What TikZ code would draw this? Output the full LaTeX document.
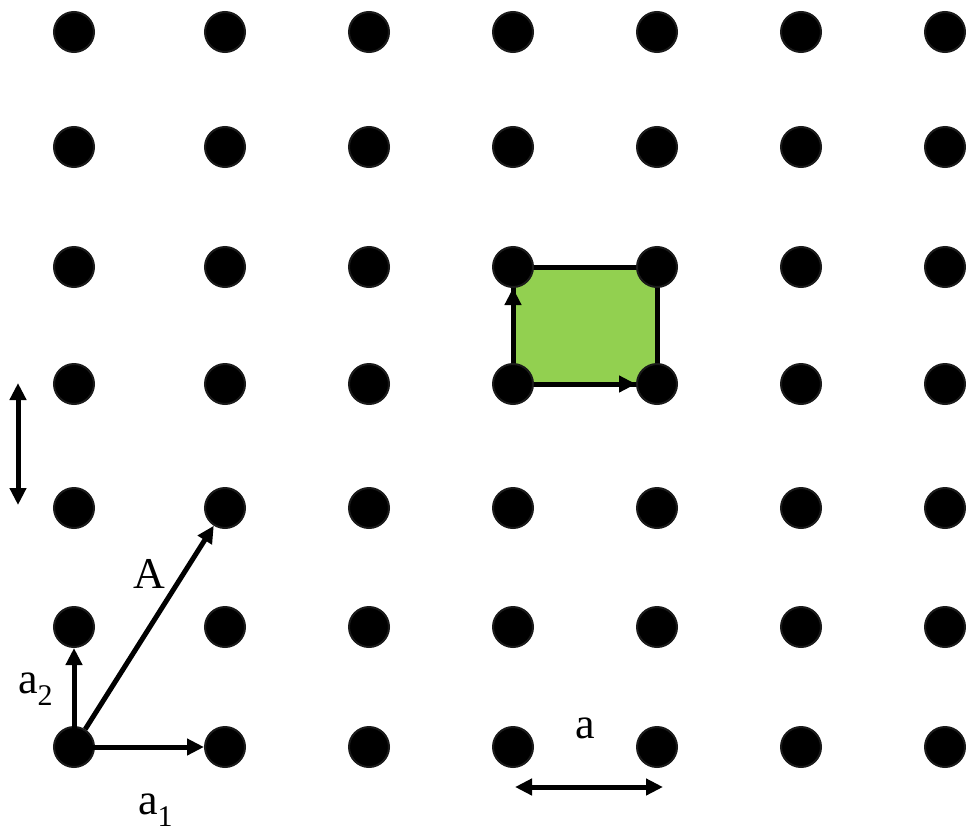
\documentclass[tikz,border=0pt]{standalone}
\usepackage{fontspec}
\setmainfont{Liberation Serif}
\usetikzlibrary{arrows.meta,backgrounds}
\definecolor{cellgreen}{RGB}{146,208,80}
\definecolor{siteedge}{RGB}{26,26,26}
\newcommand{\subnum}[1]{\raisebox{-12pt}{\fontsize{30}{30}\selectfont #1}}

\begin{document}
\begin{tikzpicture}[x=1pt,y=1pt]
\tikzset{site/.style={circle,fill=black,draw=siteedge,line width=2pt,minimum size=40pt,inner sep=0pt},
  vec/.style={line width=5pt,-{Triangle[length=17pt,width=16pt]}},
  span/.style={line width=5pt,{Triangle[length=17pt,width=16pt]}-{Triangle[length=17pt,width=16pt]}},
  lbl/.style={font=\fontsize{44}{50}\selectfont,inner sep=0pt,anchor=base west}}
\useasboundingbox (0,0) rectangle (966,-835);
% lattice sites, row 0 at the bottom
\foreach \i/\x in {0/74,1/225,2/369,3/513,4/657,5/801,6/945}
  \foreach \j/\y in {0/747,1/627,2/508,3/384,4/267,5/147,6/32}
    \node[site] (s\i\j) at (\x,-\y) {};
% unit cell
\begin{scope}[on background layer]
\draw[fill=cellgreen,line width=5pt] (s33.center) rectangle (s44.center);
\end{scope}
\draw[vec] (s33) -- (s43);
\draw[vec] (s33) -- (s34);
% primitive vectors
\draw[vec] (s00.center) -- (s10);
\draw[vec] (s00.center) -- (s01);
\draw[vec] (s00) -- (s12);
\node[lbl] (la1) at (138,-814) {a\subnum{1}};
\node[lbl] (la2) at (18,-693) {a\subnum{2}};
\node[lbl] (lA) at (133,-588) {A};
% lattice constants
\coordinate (vt) at (18,-383);
\coordinate (vb) at (18,-505);
\draw[span] (vt) -- (vb);
\coordinate (hl) at (515,-787);
\coordinate (hr) at (663,-787);
\draw[span] (hl) -- (hr);
\node[lbl] (la) at (575,-738) {a};
\end{tikzpicture}
\end{document}
